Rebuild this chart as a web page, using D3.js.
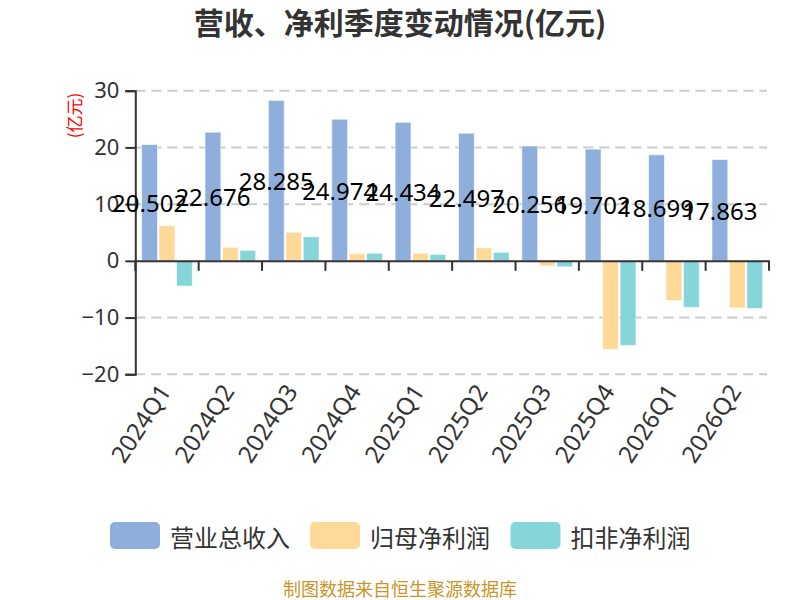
<!DOCTYPE html>
<html>
<head>
<meta charset="utf-8">
<script src="https://cdn.jsdelivr.net/npm/d3@7"></script>
<style>
  body { margin: 0; background: #fff; }
  text { font-family: "Noto Sans", "Noto Sans CJK SC", sans-serif; }
</style>
</head>
<body>
<div id="chart"></div>
<script>
const quarters = ["2024Q1","2024Q2","2024Q3","2024Q4","2025Q1","2025Q2","2025Q3","2025Q4","2026Q1","2026Q2"];
const revenue = [20.502, 22.676, 28.285, 24.974, 24.434, 22.497, 20.256, 19.702, 18.699, 17.863];
const netProfit = [6.2, 2.4, 5.05, 1.25, 1.35, 2.3, -0.9, -15.6, -7.0, -8.3];
const deductedProfit = [-4.45, 1.85, 4.25, 1.35, 1.15, 1.5, -1.05, -14.9, -8.2, -8.4];
const seriesNames = ["营业总收入", "归母净利润", "扣非净利润"];
const colors = ["#8eaedb", "#fed998", "#86d5d8"];
const yTicks = [-20, -10, 0, 10, 20, 30];

const W = 800, H = 600;
const margin = { top: 90.7, right: 31, bottom: 225.7, left: 135.3 };
const width = W - margin.left - margin.right,
      height = H - margin.top - margin.bottom;

const svg = d3.select("#chart").append("svg")
    .attr("width", W).attr("height", H);

// title
svg.append("text")
    .attr("x", 400).attr("y", 34)
    .attr("text-anchor", "middle")
    .attr("font-size", 30).attr("font-weight", "bold")
    .attr("fill", "#333")
    .style("font-family", '"Noto Sans CJK SC", sans-serif')
    .text("营收、净利季度变动情况(亿元)");

// unit label
svg.append("text")
    .attr("transform", "translate(73,115.5) rotate(-90)")
    .attr("text-anchor", "middle")
    .attr("dominant-baseline", "central")
    .attr("font-size", 17).attr("fill", "red")
    .style("font-family", '"Noto Sans CJK SC", sans-serif')
    .text("(亿元)");

const g = svg.append("g").attr("transform", `translate(${margin.left},${margin.top})`);

const x = d3.scaleBand().domain(quarters).range([0, width]);
const inner = d3.scaleBand().domain(d3.range(3))
    .range([x.step() * 0.1, x.step() * 0.9]).paddingInner(1 / 11);
const y = d3.scaleLinear().domain([-20, 30]).range([height, 0]);

// grid
g.selectAll(".grid").data(yTicks.filter(d => d !== 0)).join("line")
    .attr("x1", 0).attr("x2", width - 2)
    .attr("y1", d => y(d)).attr("y2", d => y(d))
    .attr("stroke", "#ccc").attr("stroke-width", 2)
    .attr("stroke-dasharray", "10,6");

// bars
const table = quarters.map((q, i) => ({ q, vals: [revenue[i], netProfit[i], deductedProfit[i]] }));
const groups = g.selectAll(".grp").data(table).join("g")
    .attr("transform", d => `translate(${x(d.q)},0)`);
groups.selectAll("rect").data(d => d.vals.map((v, k) => ({ v, k }))).join("rect")
    .attr("x", d => inner(d.k))
    .attr("width", inner.bandwidth())
    .attr("y", d => y(Math.max(0, d.v)))
    .attr("height", d => Math.abs(y(d.v) - y(0)))
    .attr("fill", d => colors[d.k])
    .attr("stroke", "rgba(255,255,255,0.6)").attr("stroke-width", 1);

// y axis
const yAxis = g.append("g")
    .call(d3.axisLeft(y).tickValues(yTicks).tickSize(10).tickPadding(6));
yAxis.select(".domain").attr("stroke", "#333").attr("stroke-width", 2);
yAxis.selectAll(".tick line").attr("stroke", "#333").attr("stroke-width", 2);
yAxis.selectAll(".tick text").attr("font-size", 22).attr("fill", "#333")
    .style("font-family", '"Noto Sans", sans-serif');

// x axis on zero
const xAxis = g.append("g").attr("transform", `translate(0,${y(0)})`)
    .call(d3.axisBottom(x).tickSize(0).tickFormat(""));
xAxis.select(".domain").attr("stroke", "#333").attr("stroke-width", 2);
xAxis.selectAll(".bt").data(d3.range(quarters.length + 1)).join("line")
    .attr("x1", i => i * x.step()).attr("x2", i => i * x.step())
    .attr("y1", 0).attr("y2", 10)
    .attr("stroke", "#333").attr("stroke-width", 2);

// x labels at bottom
g.selectAll(".xl").data(quarters).join("text")
    .attr("transform", d => `translate(${x(d) + x.bandwidth() / 2 - 3},${height + 12}) rotate(-57)`)
    .attr("text-anchor", "end")
    .attr("dominant-baseline", "central")
    .attr("font-size", 24).attr("fill", "#333")
    .text(d => d);

// data labels for revenue (inside middle)
g.selectAll(".lbl").data(table).join("text")
    .attr("x", d => x(d.q) + inner(0) + inner.bandwidth() / 2)
    .attr("y", d => y(d.vals[0] / 2))
    .attr("text-anchor", "middle")
    .attr("dominant-baseline", "central")
    .attr("font-size", 24).attr("fill", "#000")
    .text(d => d.vals[0].toFixed(3));

// legend
const legX = [110, 310, 510.5];
const leg = svg.selectAll(".leg").data(seriesNames).join("g")
    .attr("transform", (d, i) => `translate(${legX[i]},522)`);
leg.append("rect").attr("width", 50).attr("height", 27).attr("rx", 5)
    .attr("fill", (d, i) => colors[i]);
leg.append("text").attr("x", 60).attr("y", 14)
    .attr("dominant-baseline", "central")
    .attr("font-size", 24).attr("fill", "#333")
    .style("font-family", '"Noto Sans CJK SC", sans-serif')
    .text(d => d);

// source
svg.append("text")
    .attr("x", 400).attr("y", 588)
    .attr("text-anchor", "middle").attr("dominant-baseline", "central")
    .attr("font-size", 18).attr("fill", "#c9952b")
    .style("font-family", '"Noto Sans CJK SC", sans-serif')
    .text("制图数据来自恒生聚源数据库");
</script>
</body>
</html>
